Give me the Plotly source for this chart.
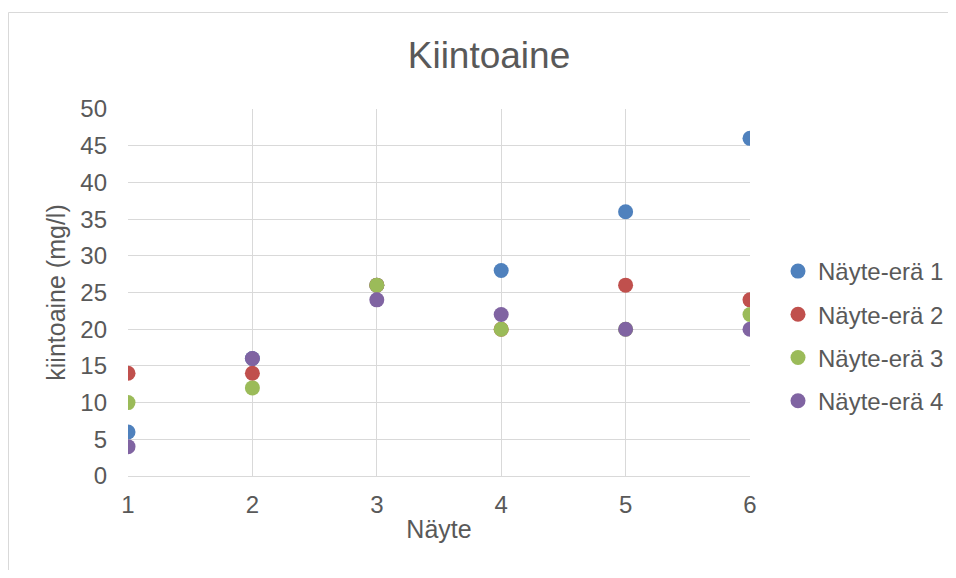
import plotly.graph_objects as go

samples = [1, 2, 3, 4, 5, 6]
series_names = ["Näyte-erä 1", "Näyte-erä 2", "Näyte-erä 3", "Näyte-erä 4"]
era1 = [6, 16, 26, 28, 36, 46]
era2 = [14, 14, 26, 20, 26, 24]
era3 = [10, 12, 26, 20, 20, 22]
era4 = [4, 16, 24, 22, 20, 20]
colors = ["#4F81BD", "#C0504D", "#9BBB59", "#8064A2"]

# page body has an 8px margin; keep the figure inside the window to avoid scrollbars
W, H = 940, 562
L, R, T, B = 120, 198, 101, 94
pw, ph = W - L - R, H - T - B

fig = go.Figure()
for i, (name, vals) in enumerate(zip(series_names, [era1, era2, era3, era4])):
    fig.add_trace(go.Scatter(
        x=samples, y=vals, mode="markers", name=name,
        legendgroup=name,
        marker=dict(size=15, color=colors[i], line=dict(width=0)),
    ))

font_family = "Liberation Sans, Arial, sans-serif"
grey = "#595959"

fig.update_layout(
    width=W, height=H,
    margin=dict(l=L, r=R, t=T, b=B, autoexpand=False),
    paper_bgcolor="white", plot_bgcolor="white",
    font=dict(family=font_family, color=grey, size=24),
    title=dict(text="Kiintoaine", x=(489 - 8) / W, xanchor="center",
               y=1 - (55 - 8) / H, yanchor="middle",
               font=dict(size=37, color=grey)),
    showlegend=True,
    legend=dict(x=(778 - 8 - L) / pw, xanchor="left",
                y=1 - (249 - 8 - T) / ph, yanchor="top",
                font=dict(size=24, color=grey),
                tracegroupgap=9, itemwidth=30, bgcolor="rgba(0,0,0,0)"),
    xaxis=dict(range=[1, 6], tickvals=samples, ticktext=[str(s) for s in samples],
               showgrid=True, gridcolor="#D9D9D9", gridwidth=1,
               showline=True, linecolor="#D9D9D9", linewidth=1,
               zeroline=False, ticks="", tickfont=dict(size=24, color=grey),
               ticklabelstandoff=7,
               title=dict(text="Näyte", font=dict(size=25, color=grey), standoff=3),
               fixedrange=True),
    yaxis=dict(range=[0, 50], dtick=5, tick0=0,
               showgrid=True, gridcolor="#D9D9D9", gridwidth=1,
               showline=False, zeroline=False, ticks="",
               tickfont=dict(size=24, color=grey), ticklabelstandoff=20,
               title=dict(text="kiintoaine (mg/l)", font=dict(size=25, color=grey), standoff=7),
               fixedrange=True),
)

# outer chart frame: only its top and left edges are visible
frame_top = 1 + (T - 4.5) / ph
frame_left = (0.5 - L) / pw
fig.add_shape(type="line", xref="paper", yref="paper",
              x0=frame_left, x1=(W - L) / pw, y0=frame_top, y1=frame_top,
              line=dict(color="#D9D9D9", width=1), layer="below")
fig.add_shape(type="line", xref="paper", yref="paper",
              x0=frame_left, x1=frame_left, y0=-B / ph, y1=frame_top,
              line=dict(color="#D9D9D9", width=1), layer="below")

fig.write_html("out.html", config={"displayModeBar": False},
               post_script="document.documentElement.style.overflow='hidden';"
                           "document.body.style.overflow='hidden';")
